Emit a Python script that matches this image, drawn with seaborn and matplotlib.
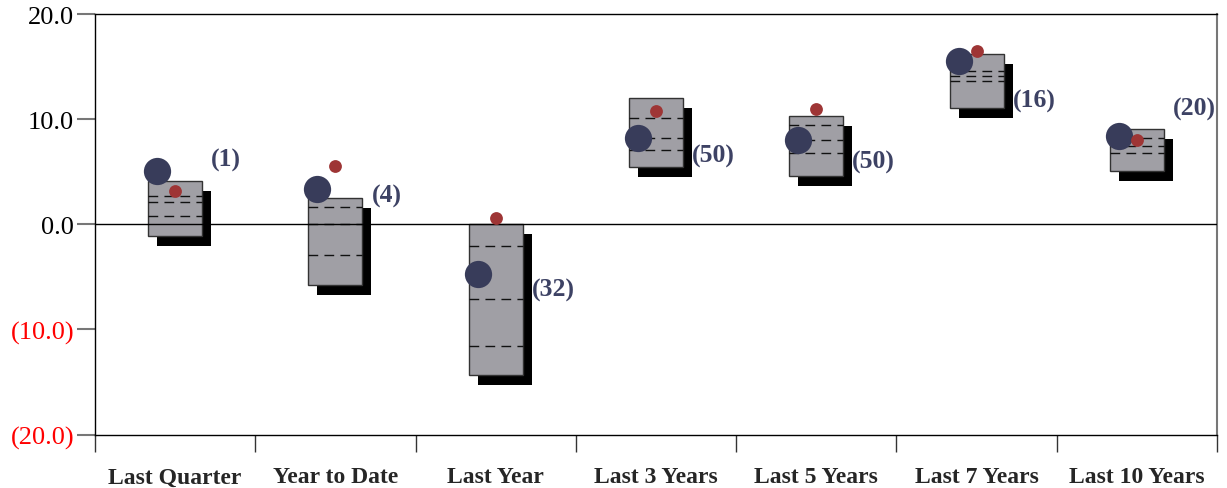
import matplotlib
matplotlib.use("Agg")
import matplotlib.pyplot as plt
import matplotlib.transforms as mtransforms
import numpy as np
import pandas as pd
import seaborn as sns

categories = ["Last Quarter", "Year to Date", "Last Year", "Last 3 Years",
              "Last 5 Years", "Last 7 Years", "Last 10 Years"]
p95 = [4.1, 2.5, 0.0, 12.0, 10.3, 16.2, 9.1]
p75 = [2.7, 1.6, -2.1, 10.1, 9.4, 14.6, 8.25]
p50 = [2.1, 0.0, -7.1, 8.2, 8.0, 14.1, 7.45]
p25 = [0.8, -2.95, -11.6, 7.1, 6.8, 13.6, 6.75]
p05 = [-1.1, -5.8, -14.3, 5.4, 4.55, 11.1, 5.1]
fund = [5.1, 3.4, -4.7, 8.25, 8.0, 15.5, 8.35]
benchmark = [3.2, 5.5, 0.6, 10.8, 10.95, 16.5, 8.0]
ranks = ["(1)", "(4)", "(32)", "(50)", "(50)", "(16)", "(20)"]
rank_y = [6.2, 2.7, -6.2, 6.5, 6.0, 11.75, 11.0]
yticks = [20, 10, 0, -10, -20]
ytick_labels = ["20.0", "10.0", "0.0", "(10.0)", "(20.0)"]

sns.set_theme(style="white")
plt.rcParams["font.family"] = ["Liberation Serif", "DejaVu Serif"]

W, H = 1227, 489
fig = plt.figure(figsize=(W / 100, H / 100), dpi=100)
ax = fig.add_axes([95 / W, 1 - 435.5 / H, (1217 - 95) / W, (435.5 - 15) / H])

x = np.arange(len(categories))
df = pd.DataFrame({"cat": categories, "x": x, "fund": fund, "bench": benchmark})

box_w = 54 / 160
heights = np.array(p95) - np.array(p05)

shadow_tr = ax.transData + mtransforms.ScaledTranslation(9 / 100, -10 / 100, fig.dpi_scale_trans)
ax.bar(x, heights, bottom=p05, width=box_w, color="black", linewidth=0,
       transform=shadow_tr, zorder=1)
ax.bar(x, heights, bottom=p05, width=box_w, color="#a09fa5",
       edgecolor="#333333", linewidth=1.0, zorder=2)

for arr in (p75, p50, p25):
    ax.hlines(arr, x - box_w / 2, x + box_w / 2, colors="#111111",
              linestyles=(0, (7, 4.5)), linewidth=1.0, zorder=3)

ax.axhline(0, color="black", linewidth=1.0, zorder=3.5)

fund_tr = ax.transData + mtransforms.ScaledTranslation(-18 / 100, 0, fig.dpi_scale_trans)
sns.scatterplot(data=df, x="x", y="fund", s=385, color="#383c5a", linewidth=0,
                ax=ax, zorder=5, transform=fund_tr, legend=False)
sns.scatterplot(data=df, x="x", y="bench", s=85, color="#9e3535", linewidth=0,
                ax=ax, zorder=6, legend=False)

label_tr = ax.transData + mtransforms.ScaledTranslation(36 / 100, 0, fig.dpi_scale_trans)
for xi, r, yv in zip(x, ranks, rank_y):
    ax.text(xi, yv, r, transform=label_tr, ha="left", va="center",
            fontsize=18.5, fontweight="bold", color="#3d4264", zorder=7)

ax.set_xlim(-0.5, len(categories) - 0.5)
ax.set_ylim(-20, 20)
ax.set_xlabel("")
ax.set_ylabel("")

ax.set_yticks(yticks)
ax.set_yticklabels(ytick_labels, fontsize=19)
for lab, v in zip(ax.get_yticklabels(), yticks):
    lab.set_color("red" if v < 0 else "black")
ax.tick_params(axis="y", which="major", left=True, length=13, width=1.5,
               color="#777777", pad=2)

ax.set_xticks(x)
ax.set_xticklabels(categories, fontsize=17, fontweight="bold")
ax.set_xticks(np.arange(-0.5, len(categories)), minor=True)
ax.tick_params(axis="x", which="major", bottom=False, length=0, pad=23)
ax.tick_params(axis="x", which="minor", bottom=True, length=12.5, width=1.0,
               color="#333333")

for side in ["left", "bottom", "top"]:
    ax.spines[side].set_visible(True)
    ax.spines[side].set_color("black")
    ax.spines[side].set_linewidth(1.0)
ax.spines["right"].set_visible(True)
ax.spines["right"].set_color("#777777")
ax.spines["right"].set_linewidth(1.5)
ax.grid(False)

fig.savefig("out.png", dpi=100)
